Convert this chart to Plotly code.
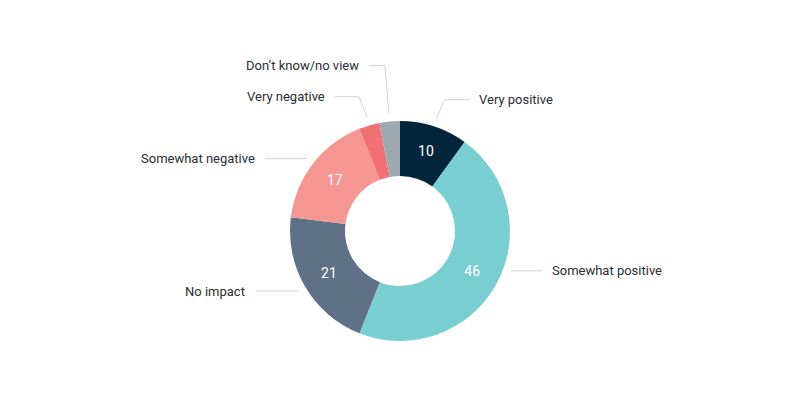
import math
import plotly.graph_objects as go

# ---- data ----
categories = ["Very positive", "Somewhat positive", "No impact",
              "Somewhat negative", "Very negative", "Don’t know/no view"]
values = [10, 46, 21, 17, 3, 3]

# ---- styles ----
colors = ["#03263d", "#79ced1", "#5f7186", "#f69693", "#f07073", "#9ea8af"]
FONT = "Roboto"
W, H = 800, 394
OFF = 8                # page body margin offset
CX, CY, R = 400 - OFF, 231 - OFF, 110
LABEL_R = 118          # radius where connectors start
# label layout tweaks (px): vertical shift, elbow horizontal run, horizontal leg length
label_dy = [-19, -17, 0, 0, -21, -48]
elbow_dx = [8, 0, 0, 0, 8, 4]
leg_len = [25, 31, 43, 42, 24, 16]
TEXT_GAP = 8


def px(x, y):
    return x / W, 1 - y / H


inside_text = [str(v) if v >= 5 else "" for v in values]

fig = go.Figure(go.Pie(
    labels=categories,
    values=values,
    text=inside_text,
    texttemplate="%{text}",
    textinfo="text",
    textposition="inside",
    insidetextorientation="horizontal",
    insidetextfont=dict(color="white", size=14, family=FONT),
    hole=0.5,
    sort=False,
    direction="clockwise",
    rotation=0,
    marker=dict(colors=colors, line=dict(width=0)),
    domain=dict(x=[(CX - R) / W, (CX + R) / W], y=[1 - (CY + R) / H, 1 - (CY - R) / H]),
    hoverinfo="label+value",
    showlegend=False,
))

shapes = []
annotations = []
total = sum(values)
cum = 0
for i, (cat, v) in enumerate(zip(categories, values)):
    mid = (cum + v / 2) / total * 2 * math.pi
    cum += v
    s, c = math.sin(mid), math.cos(mid)
    side = 1 if s >= 0 else -1
    ly = CY - LABEL_R * c + label_dy[i]
    if abs(ly - CY) < LABEL_R and elbow_dx[i] == 0:
        sx = CX + side * math.sqrt(LABEL_R ** 2 - (ly - CY) ** 2)
        pts = [(sx, ly)]
        ex = sx
    else:
        sx, sy = CX + LABEL_R * s, CY - LABEL_R * c
        ex = sx + side * elbow_dx[i]
        pts = [(sx, sy), (ex, ly)]
    endx = ex + side * leg_len[i]
    pts.append((endx, ly))
    path = "M " + " L ".join("%.4f,%.4f" % px(x, y) for x, y in pts)
    shapes.append(dict(type="path", path=path, xref="paper", yref="paper",
                       line=dict(color="#cfd4da", width=1)))
    tx, ty = px(endx + side * TEXT_GAP, ly)
    annotations.append(dict(x=tx, y=ty, xref="paper", yref="paper", text=cat,
                            showarrow=False, xanchor="left" if side > 0 else "right",
                            yanchor="middle",
                            font=dict(family=FONT, size=13, color="#2a2d34")))

fig.update_layout(
    width=W, height=H,
    margin=dict(l=0, r=0, t=0, b=0),
    paper_bgcolor="white", plot_bgcolor="white",
    shapes=shapes, annotations=annotations,
    font=dict(family=FONT),
)
fig.write_html("out.html")
